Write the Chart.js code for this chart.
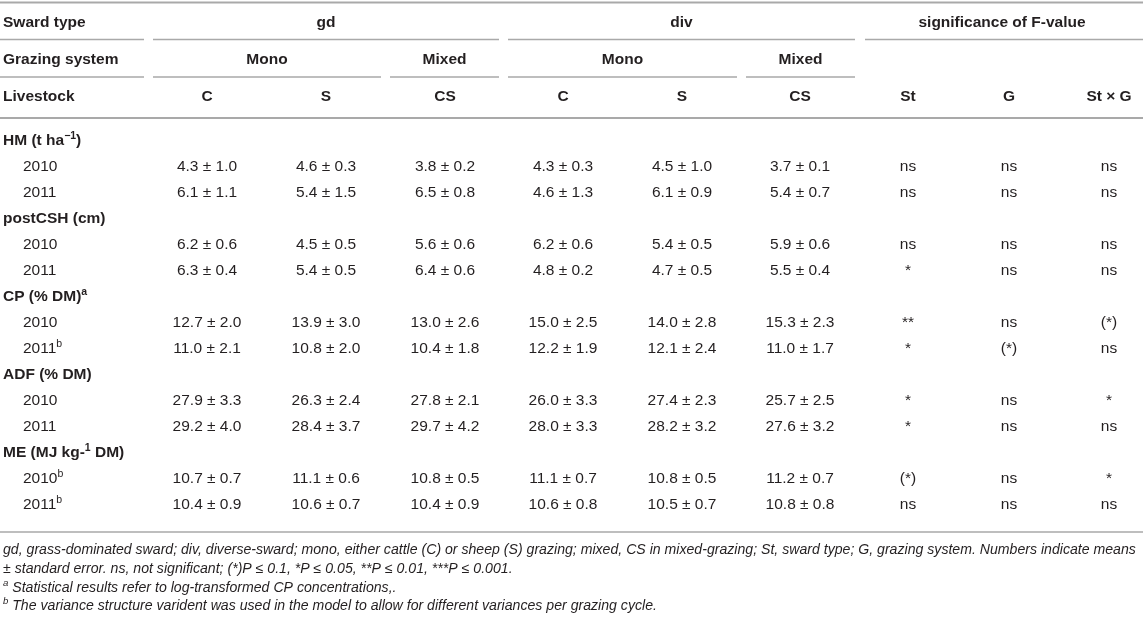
<!DOCTYPE html>
<html><head><meta charset="utf-8">
<script src="https://cdn.jsdelivr.net/npm/chart.js@4.4.1/dist/chart.umd.min.js"></script>
<style>html,body{margin:0;padding:0;background:#fff;overflow:hidden}#wrap{width:1143px;height:619px;position:relative}</style>
</head><body><div id="wrap"><canvas id="c" width="1143" height="619"></canvas></div>
<script>
// ---------- DATA ----------
const swardTypes = ['gd', 'div'];
const grazingSystems = ['Mono', 'Mixed'];
const livestock = ['C', 'S', 'CS', 'C', 'S', 'CS'];
const sigTerms = ['St', 'G', 'St × G'];
const variables = ['HM', 'postCSH', 'CP', 'ADF', 'ME'];
const years = ['2010', '2011'];

// rows: HM 2010, HM 2011, postCSH 2010, postCSH 2011, CP 2010, CP 2011, ADF 2010, ADF 2011, ME 2010, ME 2011
const gdC_mean  = [4.3, 6.1, 6.2, 6.3, 12.7, 11.0, 27.9, 29.2, 10.7, 10.4];
const gdC_se    = [1.0, 1.1, 0.6, 0.4, 2.0, 2.1, 3.3, 4.0, 0.7, 0.9];
const gdS_mean  = [4.6, 5.4, 4.5, 5.4, 13.9, 10.8, 26.3, 28.4, 11.1, 10.6];
const gdS_se    = [0.3, 1.5, 0.5, 0.5, 3.0, 2.0, 2.4, 3.7, 0.6, 0.7];
const gdCS_mean = [3.8, 6.5, 5.6, 6.4, 13.0, 10.4, 27.8, 29.7, 10.8, 10.4];
const gdCS_se   = [0.2, 0.8, 0.6, 0.6, 2.6, 1.8, 2.1, 4.2, 0.5, 0.9];
const divC_mean = [4.3, 4.6, 6.2, 4.8, 15.0, 12.2, 26.0, 28.0, 11.1, 10.6];
const divC_se   = [0.3, 1.3, 0.6, 0.2, 2.5, 1.9, 3.3, 3.3, 0.7, 0.8];
const divS_mean = [4.5, 6.1, 5.4, 4.7, 14.0, 12.1, 27.4, 28.2, 10.8, 10.5];
const divS_se   = [1.0, 0.9, 0.5, 0.5, 2.8, 2.4, 2.3, 3.2, 0.5, 0.7];
const divCS_mean= [3.7, 5.4, 5.9, 5.5, 15.3, 11.0, 25.7, 27.6, 11.2, 10.8];
const divCS_se  = [0.1, 0.7, 0.6, 0.4, 2.3, 1.7, 2.5, 3.2, 0.7, 0.8];
const sigSt   = ['ns', 'ns', 'ns', '*', '**', '*', '*', '*', '(*)', 'ns'];
const sigG    = ['ns', 'ns', 'ns', 'ns', 'ns', '(*)', 'ns', 'ns', 'ns', 'ns'];
const sigStG  = ['ns', 'ns', 'ns', 'ns', '(*)', 'ns', '*', 'ns', '*', 'ns'];

// variable labels (with superscripts) and year superscripts
const variableLabels = [
  [['HM (t ha'], ['−1', 'sup'], [')']],
  [['postCSH (cm)']],
  [['CP (% DM)'], ['a', 'sup']],
  [['ADF (% DM)']],
  [['ME (MJ kg-'], ['1', 'sup'], [' DM)']]
];
const yearSup = ['', '', '', '', '', 'b', '', '', 'b', 'b'];

const footnotes = [
  [['gd, grass-dominated sward; div, diverse-sward; mono, either cattle (C) or sheep (S) grazing; mixed, CS in mixed-grazing; St, sward type; G, grazing system. Numbers indicate means']],
  [['± standard error. ns, not significant; (*)P ≤ 0.1, *P ≤ 0.05, **P ≤ 0.01, ***P ≤ 0.001.']],
  [['a', 'sup'], [' Statistical results refer to log-transformed CP concentrations,.']],
  [['b', 'sup'], [' The variance structure varident was used in the model to allow for different variances per grazing cycle.']]
];

// ---------- LAYOUT ----------
const L = {
  W: 1143, H: 619,
  labelX: 3, indentX: 23,
  colX: [207, 326, 445, 563, 682, 800, 908, 1009, 1109],
  headY: [23, 59.5, 97],
  firstRowY: 141, rowStep: 26,
  bottomLineY: 532,
  footY: [550, 569, 588, 606],
  font: '"Liberation Sans", Arial, Helvetica, sans-serif',
  size: 15.5, footSize: 14,
  text: '#231f20', line: '#a9a9a9'
};

const meanCols = [gdC_mean, gdS_mean, gdCS_mean, divC_mean, divS_mean, divCS_mean];
const seCols = [gdC_se, gdS_se, gdCS_se, divC_se, divS_se, divCS_se];
const sigCols = [sigSt, sigG, sigStG];

function dataRowY(k) { const v = Math.floor(k / 2); return L.firstRowY + (v * 3 + 1 + (k % 2)) * L.rowStep; }
function varRowY(v) { return L.firstRowY + v * 3 * L.rowStep; }

const datasets = [];
meanCols.forEach((m, j) => {
  datasets.push({
    label: livestock[j],
    data: m.map((val, k) => ({ x: L.colX[j], y: dataRowY(k), t: val.toFixed(1) + ' ± ' + seCols[j][k].toFixed(1) })),
    pointRadius: 0
  });
});
sigCols.forEach((s, j) => {
  datasets.push({
    label: sigTerms[j],
    data: s.map((val, k) => ({ x: L.colX[6 + j], y: dataRowY(k), t: val })),
    pointRadius: 0
  });
});

function drawRich(ctx, segs, x, y, size, style, align) {
  const base = style + ' ' + size + 'px ' + L.font;
  const supF = style + ' ' + (size * 0.68).toFixed(1) + 'px ' + L.font;
  let w = 0;
  segs.forEach(s => { ctx.font = s[1] === 'sup' ? supF : base; w += ctx.measureText(s[0]).width; });
  let cx = align === 'center' ? x - w / 2 : x;
  ctx.textAlign = 'left';
  segs.forEach(s => {
    const sup = s[1] === 'sup';
    ctx.font = sup ? supF : base;
    ctx.fillText(s[0], cx, sup ? y - size * 0.33 : y);
    cx += ctx.measureText(s[0]).width;
  });
  return w;
}

const tablePlugin = {
  id: 'tablePlugin',
  afterDatasetsDraw(chart) {
    const ctx = chart.ctx;
    const xs = chart.scales.x, ys = chart.scales.y;
    const X = v => xs.getPixelForValue(v), Y = v => ys.getPixelForValue(v);
    ctx.save();
    ctx.fillStyle = L.text;
    ctx.textBaseline = 'middle';
    const hline = (x1, x2, y, w) => {
      ctx.strokeStyle = L.line; ctx.lineWidth = w;
      ctx.beginPath(); ctx.moveTo(X(x1), Y(y)); ctx.lineTo(X(x2), Y(y)); ctx.stroke();
    };
    // rules
    hline(0, L.W, 2.5, 2);
    [[0, 144], [153, 499], [508, 855], [865, L.W]].forEach(s => hline(s[0], s[1], 39.5, 1.3));
    [[0, 144], [153, 381], [390, 499], [508, 737], [746, 855]].forEach(s => hline(s[0], s[1], 77, 1.3));
    hline(0, L.W, 118, 2);
    hline(0, L.W, L.bottomLineY, 1.5);

    const bold = 'bold';
    // header labels
    drawRich(ctx, [['Sward type']], X(L.labelX), Y(L.headY[0]), L.size, bold, 'left');
    drawRich(ctx, [['Grazing system']], X(L.labelX), Y(L.headY[1]), L.size, bold, 'left');
    drawRich(ctx, [['Livestock']], X(L.labelX), Y(L.headY[2]), L.size, bold, 'left');
    drawRich(ctx, [[swardTypes[0]]], X((153 + 499) / 2), Y(L.headY[0]), L.size, bold, 'center');
    drawRich(ctx, [[swardTypes[1]]], X((508 + 855) / 2), Y(L.headY[0]), L.size, bold, 'center');
    drawRich(ctx, [['significance of F-value']], X(1002), Y(L.headY[0]), L.size, bold, 'center');
    drawRich(ctx, [[grazingSystems[0]]], X((153 + 381) / 2), Y(L.headY[1]), L.size, bold, 'center');
    drawRich(ctx, [[grazingSystems[1]]], X((390 + 499) / 2), Y(L.headY[1]), L.size, bold, 'center');
    drawRich(ctx, [[grazingSystems[0]]], X((508 + 737) / 2), Y(L.headY[1]), L.size, bold, 'center');
    drawRich(ctx, [[grazingSystems[1]]], X((746 + 855) / 2), Y(L.headY[1]), L.size, bold, 'center');
    livestock.forEach((c, j) => drawRich(ctx, [[c]], X(L.colX[j]), Y(L.headY[2]), L.size, bold, 'center'));
    sigTerms.forEach((c, j) => drawRich(ctx, [[c]], X(L.colX[6 + j]), Y(L.headY[2]), L.size, bold, 'center'));

    // row labels
    variableLabels.forEach((segs, v) => {
      drawRich(ctx, segs, X(L.labelX), Y(varRowY(v)), L.size, bold, 'left');
      years.forEach((yr, i) => {
        const k = v * 2 + i;
        const segsY = [[yr]];
        if (yearSup[k]) segsY.push([yearSup[k], 'sup']);
        drawRich(ctx, segsY, X(L.indentX), Y(dataRowY(k)), L.size, 'normal', 'left');
      });
    });

    // cells from dataset elements
    chart.data.datasets.forEach((ds, di) => {
      const meta = chart.getDatasetMeta(di);
      meta.data.forEach((el, k) => {
        drawRich(ctx, [[ds.data[k].t]], el.x, el.y, L.size, 'normal', 'center');
      });
    });

    // footnotes
    ctx.font = 'italic ' + L.footSize + 'px ' + L.font;
    const w0 = ctx.measureText(footnotes[0][0][0]).width;
    const fs = L.footSize * (1136 - L.labelX) / w0;
    footnotes.forEach((segs, i) => drawRich(ctx, segs, X(L.labelX), Y(L.footY[i]), fs, 'italic', 'left'));
    ctx.restore();
  }
};

new Chart(document.getElementById('c'), {
  type: 'scatter',
  data: { datasets },
  options: {
    responsive: false, animation: false,
    layout: { padding: 0 },
    plugins: { legend: { display: false }, tooltip: { enabled: false } },
    scales: {
      x: { type: 'linear', min: 0, max: L.W, display: false },
      y: { type: 'linear', min: 0, max: L.H, reverse: true, display: false }
    }
  },
  plugins: [tablePlugin]
});
</script>
</body></html>
